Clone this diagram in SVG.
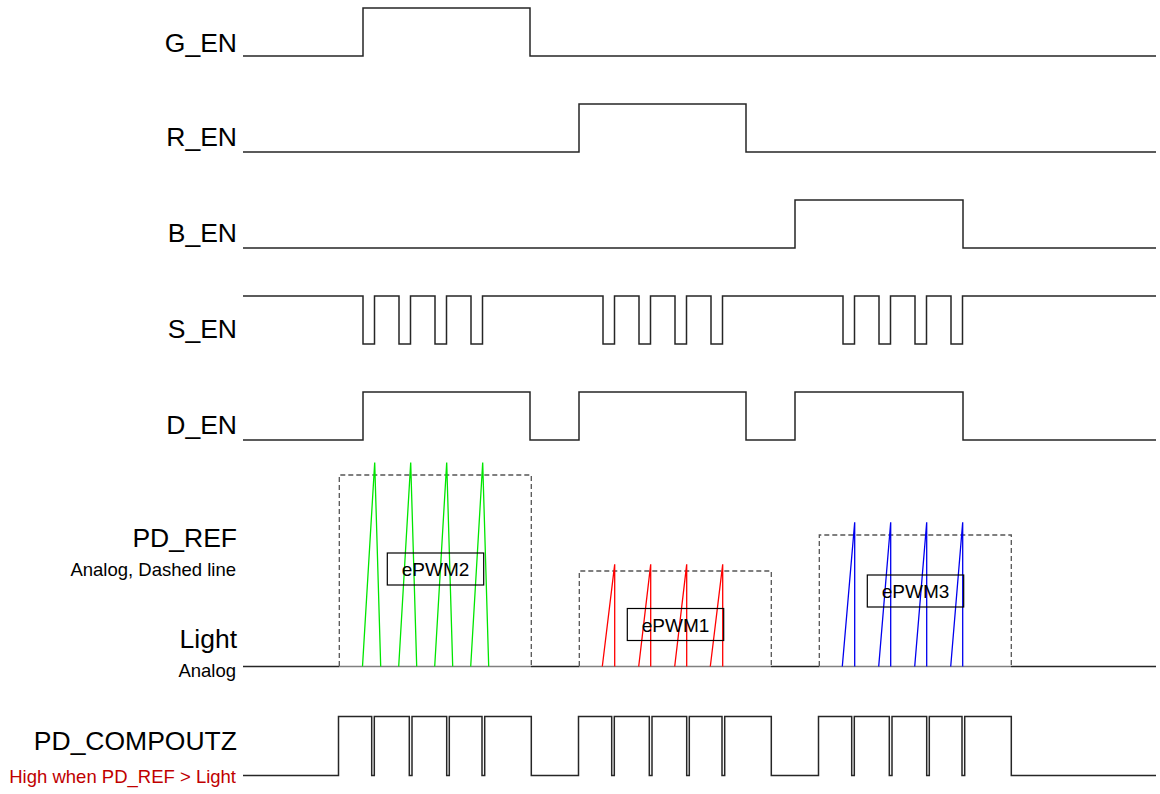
<svg xmlns="http://www.w3.org/2000/svg" width="1160" height="794" viewBox="0 0 1160 794">
<style>
.lbl{font-family:"Liberation Sans",Arial,sans-serif;font-size:26.5px;fill:#000;text-anchor:end}
.sub{font-family:"Liberation Sans",Arial,sans-serif;font-size:18.5px;fill:#000;text-anchor:end}
.red{fill:#c00000}
.tr{fill:none;stroke:#262626;stroke-width:1.5;stroke-linejoin:miter}
.base{fill:none;stroke:#808080;stroke-width:1.5}
.box{fill:none;stroke:#555;stroke-width:1.3;stroke-dasharray:5,3}
.pw{fill:none;stroke:#000;stroke-width:1.2}
.pwt{font-family:"Liberation Sans",Arial,sans-serif;font-size:19px;fill:#000;text-anchor:middle}
.g{fill:none;stroke:#00e600;stroke-width:1.3}
.r{fill:none;stroke:#ff0000;stroke-width:1.3}
.b{fill:none;stroke:#0000ee;stroke-width:1.3}
</style>
<g id="labels">
<text class="lbl" x="237" y="52">G_EN</text>
<text class="lbl" x="237" y="146">R_EN</text>
<text class="lbl" x="237" y="242">B_EN</text>
<text class="lbl" x="237" y="338">S_EN</text>
<text class="lbl" x="237" y="434">D_EN</text>
<text class="lbl" x="237" y="547">PD_REF</text>
<text class="sub" x="236" y="576">Analog, Dashed line</text>
<text class="lbl" x="237" y="648">Light</text>
<text class="sub" x="236" y="677">Analog</text>
<text class="lbl" x="237" y="750">PD_COMPOUTZ</text>
<text class="sub red" x="236" y="783">High when PD_REF &gt; Light</text>
</g>
<g id="connectors">
<polyline id="g_en" class="tr" points="243,56 363,56 363,8 530,8 530,56 1156,56"/>
<polyline id="r_en" class="tr" points="243,152 579,152 579,104 746,104 746,152 1156,152"/>
<polyline id="b_en" class="tr" points="243,248 795,248 795,200 963,200 963,248 1156,248"/>
<polyline id="s_en" class="tr" points="243,296 363,296 363,344 374.5,344 374.5,296 399,296 399,344 410.5,344 410.5,296 435,296 435,344 446.5,344 446.5,296 471,296 471,344 482.5,344 482.5,296 603,296 603,344 614.5,344 614.5,296 639,296 639,344 650.5,344 650.5,296 675,296 675,344 686.5,344 686.5,296 711,296 711,344 722.5,344 722.5,296 843,296 843,344 854.5,344 854.5,296 879,296 879,344 890.5,344 890.5,296 915,296 915,344 926.5,344 926.5,296 951,296 951,344 962.5,344 962.5,296 1156,296"/>
<polyline id="d_en" class="tr" points="243,440 363,440 363,392 530,392 530,440 579,440 579,392 746,392 746,440 795,440 795,392 963,392 963,440 1156,440"/>
<g id="light">
<polyline class="tr" points="243,666.5 339,666.5"/>
<polyline class="base" points="339,666.5 531,666.5"/>
<polyline class="tr" points="531,666.5 579,666.5"/>
<polyline class="base" points="579,666.5 771,666.5"/>
<polyline class="tr" points="771,666.5 819,666.5"/>
<polyline class="base" points="819,666.5 1011,666.5"/>
<polyline class="tr" points="1011,666.5 1156,666.5"/>
</g>
<path class="box" d="M339.3,666 V475 H531.3 V666"/>
<path class="box" d="M579.3,666 V571 H771.3 V666"/>
<path class="box" d="M819.3,666 V535 H1011.3 V666"/>
<polyline class="g" points="362.5,666.5 374.7,462.5 380.7,666.5"/>
<polyline class="g" points="398.7,666.5 410.7,462.5 416.7,666.5"/>
<polyline class="g" points="434.7,666.5 446.7,462.5 452.7,666.5"/>
<polyline class="g" points="470.7,666.5 482.7,462.5 488.7,666.5"/>
<polyline class="r" points="602.3,666.5 614.7,564.3 614.7,666.5"/>
<polyline class="r" points="638.7,666.5 650.7,564.3 650.7,666.5"/>
<polyline class="r" points="674.7,666.5 686.7,564.3 686.7,666.5"/>
<polyline class="r" points="710.3,666.5 722.7,564.3 722.7,666.5"/>
<polyline class="b" points="842.3,666.5 854.7,522.3 854.7,666.5"/>
<polyline class="b" points="878.7,666.5 890.7,522.3 890.7,666.5"/>
<polyline class="b" points="914.7,666.5 926.7,522.3 926.7,666.5"/>
<polyline class="b" points="950.7,666.5 962.7,522.3 962.7,666.5"/>
<polyline id="pd_compoutz" class="tr" points="243,775.5 338.5,775.5 338.5,716.5 371.7,716.5 371.7,775.5 374.3,775.5 374.3,716.5 409.3,716.5 409.3,775.5 412,775.5 412,716.5 446.7,716.5 446.7,775.5 449.3,775.5 449.3,716.5 482,716.5 482,775.5 484.7,775.5 484.7,716.5 531.3,716.5 531.3,775.5 578.5,775.5 578.5,716.5 611.7,716.5 611.7,775.5 614.3,775.5 614.3,716.5 649.3,716.5 649.3,775.5 652,775.5 652,716.5 686.7,716.5 686.7,775.5 689.3,775.5 689.3,716.5 722,716.5 722,775.5 724.7,775.5 724.7,716.5 771.3,716.5 771.3,775.5 818.5,775.5 818.5,716.5 851.7,716.5 851.7,775.5 854.3,775.5 854.3,716.5 889.3,716.5 889.3,775.5 892,775.5 892,716.5 926.7,716.5 926.7,775.5 929.3,775.5 929.3,716.5 962,716.5 962,775.5 964.7,775.5 964.7,716.5 1011.3,716.5 1011.3,775.5 1156,775.5"/>
</g>
<g id="epwm2"><rect class="pw" x="387.3" y="553" width="96.4" height="32"/><text class="pwt" x="435.5" y="576">ePWM2</text></g>
<g id="epwm1"><rect class="pw" x="627.3" y="608.5" width="96.4" height="32"/><text class="pwt" x="675.5" y="631.5">ePWM1</text></g>
<g id="epwm3"><rect class="pw" x="867.3" y="575" width="96.4" height="32"/><text class="pwt" x="915.5" y="598">ePWM3</text></g>
</svg>
